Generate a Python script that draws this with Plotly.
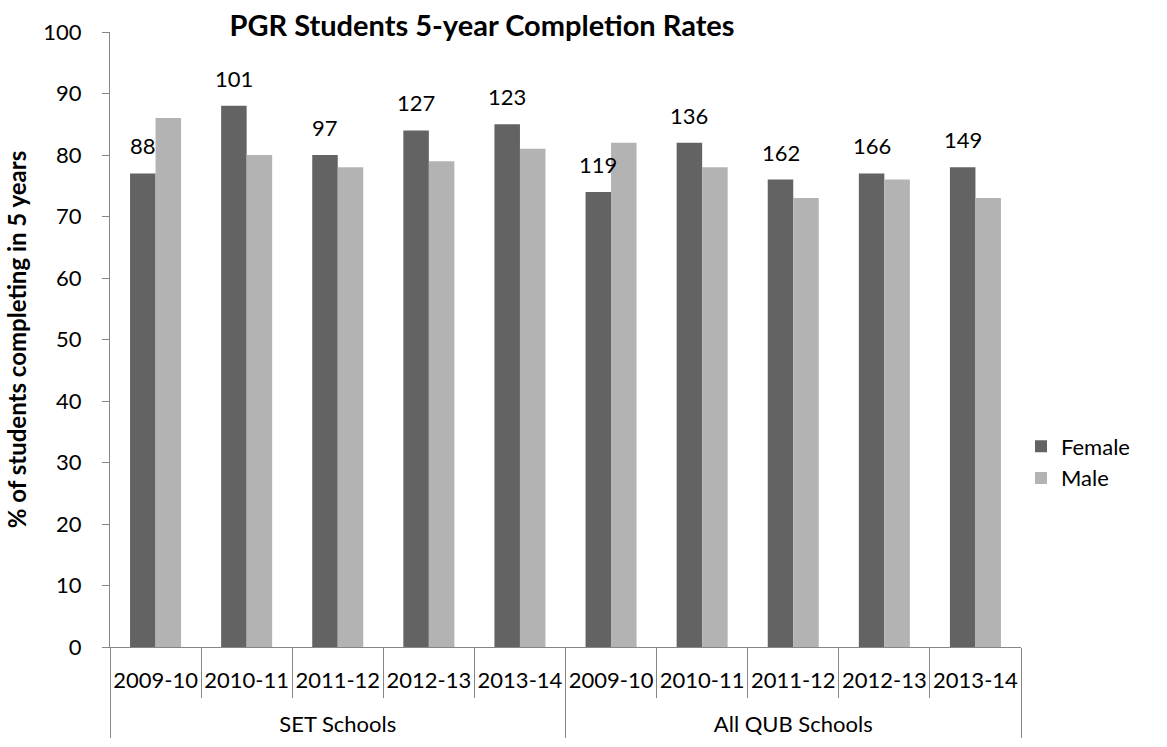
import plotly.graph_objects as go

# Data
group_names = ["SET Schools", "All QUB Schools"]
year_names = ["2009-10", "2010-11", "2011-12", "2012-13", "2013-14"]
female = [77, 88, 80, 84, 85, 74, 82, 76, 77, 78]
male = [86, 80, 78, 79, 81, 82, 78, 73, 76, 73]
counts = [88, 101, 97, 127, 123, 119, 136, 162, 166, 149]

# Group labels carry a leading blank line so they sit lower under the years
groups = ["<br>" + g for g in group_names for _ in year_names]
years = year_names * len(group_names)

FONT = "Lato"
AXIS_GREY = "#868686"
BARGAP = 0.44
TICK_SIZE = 22

fig = go.Figure()
fig.add_trace(go.Bar(name="Female", x=[groups, years], y=female,
                     marker=dict(color="#636363", line=dict(width=0))))
fig.add_trace(go.Bar(name="Male", x=[groups, years], y=male,
                     marker=dict(color="#b3b3b3", line=dict(width=0))))

# Student counts above each Female bar
bar_w = (1 - BARGAP) / 2
for i, (n, v) in enumerate(zip(counts, female)):
    fig.add_annotation(x=i - bar_w / 2, y=v, xref="x", yref="y",
                       text=str(n), showarrow=False, yanchor="bottom",
                       yshift=12, font=dict(family=FONT, size=TICK_SIZE, color="black"))

fig.update_layout(
    width=1167, height=747,
    margin=dict(l=110, r=146, t=32, b=100),
    paper_bgcolor="white", plot_bgcolor="white",
    barmode="group", bargap=BARGAP, bargroupgap=0,
    font=dict(family=FONT, size=TICK_SIZE, color="black"),
    title=dict(text="<b>PGR Students 5-year Completion Rates</b>",
               x=482 / 1167, xanchor="center", y=1 - 26 / 747, yanchor="middle",
               font=dict(family=FONT, size=29, color="black")),
    legend=dict(x=1.0, xanchor="left", y=0.30, yanchor="middle",
                font=dict(family=FONT, size=TICK_SIZE), itemsizing="constant",
                traceorder="normal", bgcolor="rgba(0,0,0,0)"),
    showlegend=True,
)

fig.update_yaxes(range=[0, 100], dtick=10, tick0=0, showgrid=False, zeroline=False,
                 showline=True, linecolor=AXIS_GREY, linewidth=1,
                 ticks="outside", ticklen=7, tickcolor=AXIS_GREY,
                 ticklabelstandoff=16, automargin=False,
                 tickfont=dict(family=FONT, size=TICK_SIZE),
                 title=dict(text="<b>% of students completing in 5 years</b>",
                            font=dict(family=FONT, size=24), standoff=9))

fig.update_xaxes(type="multicategory", showgrid=False, showline=True,
                 linecolor=AXIS_GREY, linewidth=1,
                 ticks="outside", tickson="boundaries", ticklen=50,
                 tickcolor=AXIS_GREY, showdividers=True,
                 dividercolor=AXIS_GREY, dividerwidth=1,
                 tickangle=0, ticklabelstandoff=14, automargin=False,
                 tickfont=dict(family=FONT, size=TICK_SIZE))

fig.write_html("out.html")
